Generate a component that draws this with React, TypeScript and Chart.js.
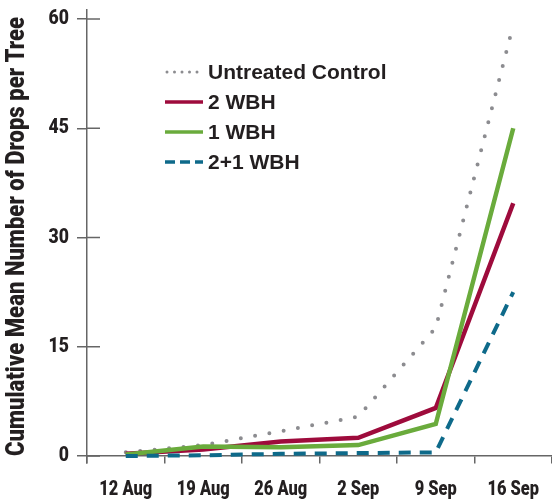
import React, { useEffect, useRef } from 'react';
import { Chart, registerables } from 'chart.js';

Chart.register(...registerables);

const categories = ['12 Aug', '19 Aug', '26 Aug', '2 Sep', '9 Sep', '16 Sep'];
const untreatedControl = [0.5, 1.5, 3.4, 5.4, 17.6, 59.2];
const wbh2 = [0.3, 0.9, 2.0, 2.5, 6.6, 34.7];
const wbh1 = [0.2, 1.3, 1.2, 1.5, 4.4, 45.0];
const wbh21 = [0.0, 0.1, 0.3, 0.4, 0.5, 22.5];
const yTicks = [0, 15, 30, 45, 60];
const seriesLabels = ['Untreated Control', '2 WBH', '1 WBH', '2+1 WBH'];
const yTitle = 'Cumulative Mean Number of Drops per Tree';

// "CondNN" marks text drawn horizontally condensed to NN% (no condensed font is installed)
const COND_XTICK = "Cond78, Roboto, 'Liberation Sans', sans-serif";
const COND_YTICK = "Cond88, Roboto, 'Liberation Sans', sans-serif";
const COND_TITLE = "Cond85, Roboto, 'Liberation Sans', sans-serif";
const TEXT = '#231f20';
const AXIS = '#666666';
const GRAY = '#8c8c90';
const RED = '#9e0b3c';
const GREEN = '#6aab3c';
const BLUE = '#0e6a8a';

const legendItems = [
  { label: seriesLabels[0], color: GRAY, dash: [0, 7.5], cap: 'round', width: 3 },
  { label: seriesLabels[1], color: RED, dash: [], cap: 'butt', width: 3.5 },
  { label: seriesLabels[2], color: GREEN, dash: [], cap: 'butt', width: 3.5 },
  { label: seriesLabels[3], color: BLUE, dash: [10, 5], cap: 'butt', width: 3.5 },
];

const condensePlugin = {
  id: 'condense',
  beforeInit(chart: any) {
    const ctx = chart.ctx;
    const orig = ctx.fillText;
    ctx.fillText = function (text: string, x: number, y: number, maxWidth?: number) {
      const m = /Cond(\d+)/.exec(this.font);
      if (!m) return orig.call(this, text, x, y, maxWidth);
      const s = Number(m[1]) / 100;
      this.save();
      this.translate(x, y);
      this.scale(s, 1);
      if (maxWidth === undefined || maxWidth === null) orig.call(this, text, 0, 0);
      else orig.call(this, text, 0, 0, maxWidth / s);
      this.restore();
    };
  },
};

const customLegend = {
  id: 'customLegend',
  afterDraw(chart: any) {
    const { ctx, chartArea } = chart;
    const x0 = chartArea.left + 78;
    const y0 = chartArea.top + 62;
    ctx.save();
    legendItems.forEach((it, i) => {
      const y = y0 + i * 30;
      ctx.beginPath();
      ctx.strokeStyle = it.color;
      ctx.lineWidth = it.width;
      ctx.lineCap = it.cap;
      ctx.setLineDash(it.dash);
      ctx.moveTo(x0 + (it.cap === 'round' ? 2 : 0), y);
      ctx.lineTo(x0 + 38, y);
      ctx.stroke();
      ctx.setLineDash([]);
      ctx.fillStyle = TEXT;
      ctx.font = "bold 21px 'Liberation Sans', Arial, sans-serif";
      ctx.textBaseline = 'middle';
      ctx.textAlign = 'left';
      ctx.fillText(it.label, x0 + 43, y + 1);
    });
    ctx.restore();
  },
};

const yStubs = {
  id: 'yStubs',
  afterDraw(chart: any) {
    const { ctx, chartArea, scales } = chart;
    const ys = scales.y;
    ctx.save();
    ctx.strokeStyle = AXIS;
    ctx.lineWidth = 1.5;
    yTicks.forEach((v) => {
      const p = ys.getPixelForValue(v);
      ctx.beginPath();
      ctx.moveTo(chartArea.left, p);
      ctx.lineTo(chartArea.left + 13, p);
      ctx.stroke();
    });
    ctx.restore();
  },
};

const zeroPadding = (scale: any) => {
  scale.paddingLeft = 0;
  scale.paddingRight = 0;
  scale.paddingTop = 0;
  scale.paddingBottom = 0;
};

export default function App() {
  const ref = useRef<HTMLCanvasElement>(null);
  useEffect(() => {
    if (!ref.current) return;
    const chart = new Chart(ref.current, {
      type: 'line',
      data: {
        labels: categories,
        datasets: [
          {
            label: seriesLabels[0],
            data: untreatedControl,
            borderColor: GRAY,
            borderWidth: 4,
            borderDash: [0, 14.5],
            borderCapStyle: 'round',
            pointRadius: 0,
            order: 3,
          },
          {
            label: seriesLabels[1],
            data: wbh2,
            borderColor: RED,
            borderWidth: 4.5,
            pointRadius: 0,
            order: 2,
          },
          {
            label: seriesLabels[2],
            data: wbh1,
            borderColor: GREEN,
            borderWidth: 4.5,
            pointRadius: 0,
            order: 1,
          },
          {
            label: seriesLabels[3],
            data: wbh21,
            borderColor: BLUE,
            borderWidth: 4,
            borderDash: [12, 9],
            pointRadius: 0,
            order: 0,
          },
        ],
      },
      options: {
        animation: false,
        responsive: true,
        maintainAspectRatio: false,
        layout: { padding: { top: 10, bottom: 38, left: 0, right: 0 } },
        plugins: { legend: { display: false }, tooltip: { enabled: false } },
        scales: {
          x: {
            type: 'category',
            position: { y: 0 },
            offset: true,
            afterFit: zeroPadding,
            grid: {
              offset: true,
              drawOnChartArea: false,
              drawTicks: true,
              tickLength: 7,
              color: AXIS,
              lineWidth: 1.5,
            },
            border: { display: true, color: AXIS, width: 1.5 },
            ticks: {
              color: TEXT,
              font: { family: COND_XTICK, size: 21, weight: '900' },
              padding: 14,
              maxRotation: 0,
              autoSkip: false,
            },
          },
          y: {
            position: 'left',
            min: -0.961,
            max: 61.236,
            afterBuildTicks: (scale: any) => {
              scale.ticks = yTicks.map((v) => ({ value: v }));
            },
            afterFit: (scale: any) => {
              zeroPadding(scale);
              scale.width = 87;
            },
            grid: {
              drawOnChartArea: false,
              drawTicks: true,
              tickLength: 10,
              color: AXIS,
              lineWidth: 1.5,
            },
            border: { display: true, color: AXIS, width: 1.5 },
            ticks: {
              color: TEXT,
              font: { family: COND_YTICK, size: 20, weight: '900' },
              padding: 8,
            },
            title: {
              display: true,
              text: yTitle,
              color: TEXT,
              font: { family: COND_TITLE, size: 26, weight: '900' },
              padding: { top: 2, bottom: 0 },
            },
          },
        },
      },
      plugins: [condensePlugin, customLegend, yStubs],
    });
    return () => chart.destroy();
  }, []);
  return (
    <div style={{ position: 'fixed', left: 0, top: 0, width: 552, height: 501 }}>
      <canvas ref={ref} />
    </div>
  );
}
